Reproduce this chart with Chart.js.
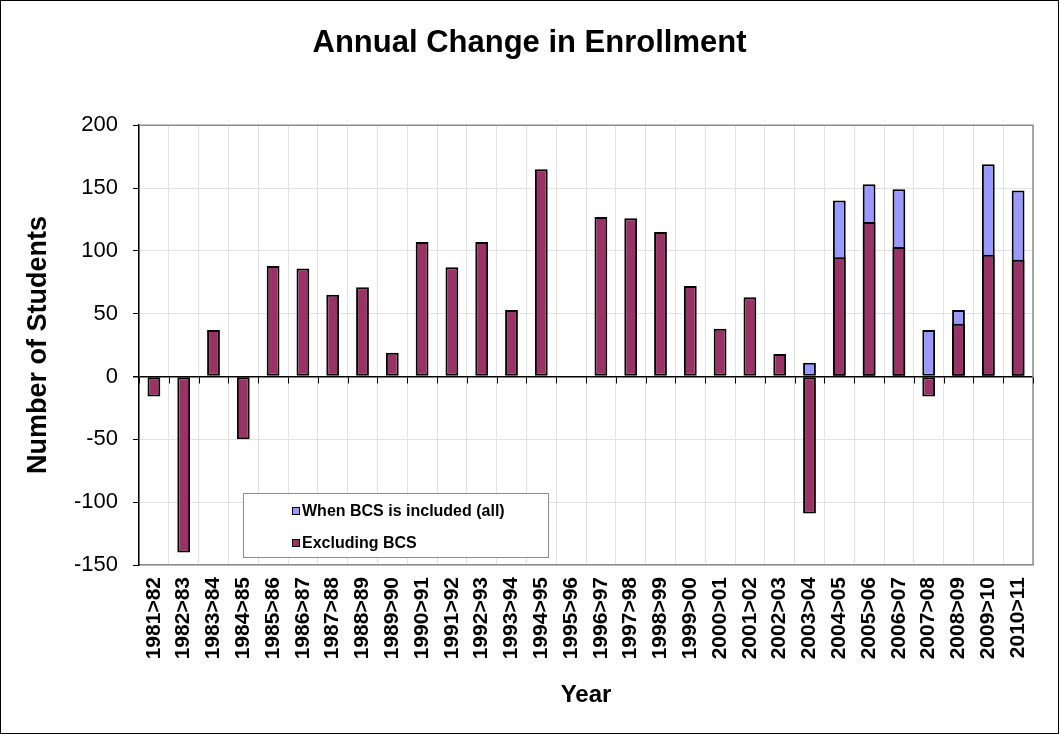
<!DOCTYPE html>
<html>
<head>
<meta charset="utf-8">
<script src="https://cdn.jsdelivr.net/npm/chart.js@4/dist/chart.umd.min.js"></script>
<style>
  html, body { margin: 0; padding: 0; background: #fff; }
  #wrap { width: 1059px; height: 734px; position: relative; }
</style>
</head>
<body>
<div id="wrap"><canvas id="c"></canvas></div>
<script>
const categories = ['1981>82','1982>83','1983>84','1984>85','1985>86','1986>87','1987>88','1988>89','1989>90','1990>91',
  '1991>92','1992>93','1993>94','1994>95','1995>96','1996>97','1997>98','1998>99','1999>00','2000>01',
  '2001>02','2002>03','2003>04','2004>05','2005>06','2006>07','2007>08','2008>09','2009>10','2010>11'];
const excludingBCS = [-16,-140,37,-50,88,86,65,71,19,107,87,107,53,165,0,127,126,115,72,38,63,18,-109,95,123,103,-16,42,97,93];
const includingBCS = [null,null,null,null,null,null,null,null,null,null,null,null,null,null,null,null,null,null,null,null,null,null,11,140,153,149,37,53,169,148];
const yTicks = { min: -150, max: 200, step: 50 };

const FONT = "'Liberation Sans', Arial, sans-serif";

const extras = {
  id: 'extras',
  beforeDraw(chart) {
    const ctx = chart.ctx;
    ctx.save();
    ctx.fillStyle = '#fff';
    ctx.fillRect(0, 0, chart.width, chart.height);
    ctx.restore();
  },
  afterDatasetsDraw(chart) {
    const ctx = chart.ctx;
    const a = chart.chartArea;
    const xs = chart.scales.x, ys = chart.scales.y;
    ctx.save();
    // plot frame (top, right)
    ctx.strokeStyle = '#8c8c8c';
    ctx.lineWidth = 1.5;
    ctx.beginPath();
    ctx.moveTo(a.left, a.top); ctx.lineTo(a.right, a.top); ctx.lineTo(a.right, a.bottom);
    ctx.stroke();
    // tick marks along zero line
    const y0 = Math.round(ys.getPixelForValue(0)) + 0.5;
    ctx.strokeStyle = '#000';
    ctx.lineWidth = 1;
    ctx.beginPath();
    for (let i = 0; i <= categories.length; i++) {
      const px = Math.round(xs.getPixelForValue(i - 0.5)) + 0.5;
      ctx.moveTo(px, y0); ctx.lineTo(px, y0 + 6);
    }
    ctx.stroke();
    // legend box
    const lx = 243, ly = 493, lw = 305, lh = 64;
    ctx.fillStyle = '#fff';
    ctx.fillRect(lx, ly, lw, lh);
    ctx.strokeStyle = '#8c8c8c';
    ctx.lineWidth = 1;
    ctx.strokeRect(lx + 0.5, ly + 0.5, lw, lh);
    const ds = chart.data.datasets.slice().reverse();
    ctx.font = "bold 16px " + FONT;
    ctx.textBaseline = 'middle';
    ctx.textAlign = 'left';
    ds.forEach((d, k) => {
      const cy = ly + 18 + k * 32;
      ctx.fillStyle = d.backgroundColor;
      ctx.fillRect(292, cy - 4, 8, 8);
      ctx.strokeStyle = '#000';
      ctx.strokeRect(292.5, cy - 3.5, 7, 7);
      ctx.fillStyle = '#000';
      ctx.fillText(d.label, 302, cy + 1);
    });
    // outer frame
    ctx.strokeStyle = '#000';
    ctx.lineWidth = 1;
    ctx.strokeRect(0.5, 0.5, chart.width - 1, chart.height - 1);
    ctx.restore();
  }
};

new Chart(document.getElementById('c'), {
  type: 'bar',
  data: {
    labels: categories,
    datasets: [
      { label: 'Excluding BCS', data: excludingBCS, backgroundColor: '#993366', borderColor: '#000', borderWidth: 2, borderSkipped: false },
      { label: 'When BCS is included (all)', data: includingBCS, backgroundColor: '#9999FF', borderColor: '#000', borderWidth: 2, borderSkipped: false }
    ]
  },
  options: {
    responsive: true,
    maintainAspectRatio: false,
    animation: false,
    datasets: { bar: { grouped: false, categoryPercentage: 1, barPercentage: 0.43 } },
    layout: { padding: { left: 26, right: 26, top: 0, bottom: 0 } },
    plugins: {
      legend: { display: false },
      tooltip: { enabled: false },
      title: {
        display: true,
        text: 'Annual Change in Enrollment',
        color: '#000',
        font: { family: FONT, size: 31, weight: 'bold' },
        padding: { top: 25, bottom: 63 }
      }
    },
    scales: {
      x: {
        grid: { offset: true, color: '#e2e2e2', drawTicks: false },
        border: { color: '#8c8c8c', width: 1.5 },
        ticks: {
          autoSkip: false, minRotation: 90, maxRotation: 90, padding: 12,
          color: '#000', font: { family: FONT, size: 21, weight: 'bold' }
        },
        title: {
          display: true, text: 'Year', color: '#000',
          font: { family: FONT, size: 24, weight: 'bold' },
          padding: { top: 0, bottom: 24 }
        },
        afterFit(s) { s.height = 169; }
      },
      y: {
        min: yTicks.min, max: yTicks.max,
        grid: {
          color: c => c.tick && c.tick.value === 0 ? '#000' : (c.tick && c.tick.value === yTicks.max ? '#8c8c8c' : '#e2e2e2'),
          lineWidth: c => c.tick && c.tick.value === 0 ? 1.5 : 1,
          tickColor: '#000', tickLength: 6
        },
        border: { color: '#000', width: 1.5 },
        ticks: {
          stepSize: yTicks.step, padding: 15, color: '#000',
          font: { family: FONT, size: 22 }
        },
        title: {
          display: true, text: 'Number of Students', color: '#000',
          font: { family: FONT, size: 27, weight: 'bold', lineHeight: 0.9 },
          padding: { top: 0, bottom: 0 }
        },
        afterFit(s) { s.width = 113; }
      }
    }
  },
  plugins: [extras]
});
</script>
</body>
</html>
